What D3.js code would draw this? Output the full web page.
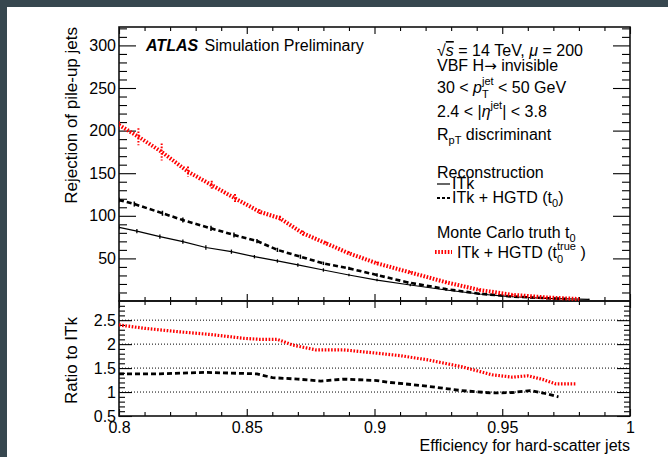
<!DOCTYPE html>
<html><head><meta charset="utf-8">
<script src="https://cdn.jsdelivr.net/npm/d3@7"></script>
<style>
html,body{margin:0;padding:0;background:#fff;}
svg{display:block;font-family:"Liberation Sans",Arial,Helvetica,sans-serif;}
</style></head><body>
<svg id="c" width="668" height="457"></svg>
<script>
// ---------- data ----------
const itkEff  = [0.800,0.807,0.816,0.825,0.834,0.844,0.853,0.862,0.870,0.880,0.890,0.901,0.914,0.928,0.941,0.954,0.967,0.984];
const itkRej  = [86.5,82.0,75.5,69.6,62.8,57.9,52.0,47.0,42.3,36.4,30.5,24.6,18.8,12.9,8.2,5.0,3.1,2.0];
const itkErr  = [2.5,2.5,2.5,2.5,2.5,2.5,2,2,2,2,1.5,1.5,1.5,1,1,0.5,0.5,0.5];

const hgtdEff = [0.800,0.806,0.817,0.825,0.836,0.845,0.854,0.862,0.871,0.880,0.890,0.901,0.913,0.928,0.941,0.954,0.967,0.975];
const hgtdRej = [118.5,113.8,103.0,95.0,85.3,77.5,70.4,60.0,52.0,44.2,38.3,30.5,21.8,14.0,8.6,5.2,3.3,2.5];
const hgtdErr = [3,3,3,3,3,3,2.5,2.5,2.5,2,2,2,1.5,1,1,0.5,0.5,0.5];

const truthEff = [0.800,0.8076,0.8167,0.827,0.8363,0.8454,0.855,0.863,0.872,0.881,0.890,0.901,0.914,0.928,0.941,0.954,0.967,0.980];
const truthRej = [206.6,192.8,175.0,151.8,136.0,120.5,104.8,97.0,79.5,67.7,56.0,44.2,33.5,22.0,13.0,7.2,4.2,2.3];
const truthErr = [4,10,10,6,5,5,3,3,3,2,2,2,1.5,1,1,1,0.5,0.5];

const ratioHgtdEff = [0.800,0.816,0.834,0.854,0.860,0.870,0.879,0.888,0.901,0.906,0.912,0.921,0.934,0.946,0.954,0.961,0.966,0.972];
const ratioHgtd    = [1.38,1.38,1.41,1.38,1.30,1.27,1.23,1.27,1.24,1.20,1.17,1.12,1.03,0.98,0.99,1.03,0.98,0.90];

const ratioTruthEff = [0.800,0.810,0.823,0.836,0.849,0.855,0.862,0.868,0.877,0.888,0.901,0.910,0.921,0.934,0.946,0.954,0.960,0.966,0.971,0.979];
const ratioTruth    = [2.40,2.33,2.26,2.20,2.12,2.10,2.10,1.98,1.88,1.88,1.81,1.76,1.67,1.53,1.36,1.31,1.34,1.26,1.17,1.17];

const topYTicks   = [50,100,150,200,250,300];
const ratioYTicks = [0.5,1,1.5,2,2.5];
const ratioGrid   = [1,1.5,2,2.5];
const xTicks      = [0.8,0.85,0.9,0.95,1];
const xTickLabels = ["0.8","0.85","0.9","0.95","1"];

// ---------- layout ----------
const svg = d3.select("#c");
svg.append("rect").attr("width",668).attr("height",457).attr("fill","#fff");
svg.append("rect").attr("x",0).attr("y",0).attr("width",668).attr("height",7).attr("fill","#37474f");
svg.append("rect").attr("x",0).attr("y",0).attr("width",7).attr("height",457).attr("fill","#37474f");

const L=119, R=630, T=27, M=301, B=416;
const x = d3.scaleLinear().domain([0.8,1]).range([L,R]);
const yTop = d3.scaleLinear().domain([0,321.6]).range([M,T]);
const yBot = d3.scaleLinear().domain([0.5,2.9]).range([B,M]);

const minorTop = d3.range(10,321,10).filter(v=>v%50!==0);
const minorBot = d3.range(0.6,2.9,0.1).map(v=>+v.toFixed(1)).filter(v=>Math.abs(v*2-Math.round(v*2))>1e-6);
const xMinor = d3.range(0.81,1.0,0.01).map(v=>+v.toFixed(2)).filter(v=>Math.abs(v*20-Math.round(v*20))>1e-6);

function styleAxis(g){
  g.selectAll("path.domain").remove();
  g.selectAll(".tick line").attr("stroke","#000").attr("stroke-width",1.1);
  g.selectAll(".tick text").attr("fill","#000").style("font-size","16px").style("font-family",'"Liberation Sans",Arial,sans-serif');
}
const defs = svg.append("defs");
defs.append("clipPath").attr("id","clipTop").append("rect").attr("x",L).attr("y",T).attr("width",R-L).attr("height",M-T);
defs.append("clipPath").attr("id","clipBot").append("rect").attr("x",L).attr("y",M).attr("width",R-L).attr("height",B-M);

// ---- top panel axes ----
svg.append("g").attr("transform",`translate(${L},0)`)
  .call(d3.axisLeft(yTop).tickValues(topYTicks).tickSize(-17).tickPadding(3)).call(styleAxis);
svg.append("g").attr("transform",`translate(${L},0)`)
  .call(d3.axisLeft(yTop).tickValues(minorTop).tickSize(-8).tickFormat("")).call(styleAxis);
svg.append("g").attr("transform",`translate(${R},0)`)
  .call(d3.axisRight(yTop).tickValues(topYTicks).tickSize(-17).tickFormat("")).call(styleAxis);
svg.append("g").attr("transform",`translate(${R},0)`)
  .call(d3.axisRight(yTop).tickValues(minorTop).tickSize(-8).tickFormat("")).call(styleAxis);
svg.append("g").attr("transform",`translate(0,${T})`)
  .call(d3.axisTop(x).tickValues(xTicks).tickSize(-7).tickFormat("")).call(styleAxis);
svg.append("g").attr("transform",`translate(0,${T})`)
  .call(d3.axisTop(x).tickValues(xMinor).tickSize(-4).tickFormat("")).call(styleAxis);
svg.append("g").attr("transform",`translate(0,${M})`)
  .call(d3.axisBottom(x).tickValues(xTicks).tickSize(-7).tickFormat("")).call(styleAxis);
svg.append("g").attr("transform",`translate(0,${M})`)
  .call(d3.axisBottom(x).tickValues(xMinor).tickSize(-4).tickFormat("")).call(styleAxis);

// ---- bottom panel axes ----
svg.append("g").attr("transform",`translate(${L},0)`)
  .call(d3.axisLeft(yBot).tickValues(ratioYTicks).tickSize(-13).tickPadding(3).tickFormat(d=>String(d))).call(styleAxis);
svg.append("g").attr("transform",`translate(${L},0)`)
  .call(d3.axisLeft(yBot).tickValues(minorBot).tickSize(-6).tickFormat("")).call(styleAxis);
svg.append("g").attr("transform",`translate(${R},0)`)
  .call(d3.axisRight(yBot).tickValues(ratioYTicks).tickSize(-13).tickFormat("")).call(styleAxis);
svg.append("g").attr("transform",`translate(${R},0)`)
  .call(d3.axisRight(yBot).tickValues(minorBot).tickSize(-6).tickFormat("")).call(styleAxis);
svg.append("g").attr("transform",`translate(0,${M})`)
  .call(d3.axisTop(x).tickValues(xTicks).tickSize(-7).tickFormat("")).call(styleAxis);
svg.append("g").attr("transform",`translate(0,${M})`)
  .call(d3.axisTop(x).tickValues(xMinor).tickSize(-4).tickFormat("")).call(styleAxis);
svg.append("g").attr("transform",`translate(0,${B})`)
  .call(d3.axisBottom(x).tickValues(xTicks).tickSize(-7).tickPadding(6).tickFormat((d,i)=>xTickLabels[i])).call(styleAxis);
svg.append("g").attr("transform",`translate(0,${B})`)
  .call(d3.axisBottom(x).tickValues(xMinor).tickSize(-4).tickFormat("")).call(styleAxis);

// grid lines in ratio
svg.append("g").selectAll("line").data(ratioGrid).join("line")
  .attr("x1",L).attr("x2",R).attr("y1",d=>yBot(d)).attr("y2",d=>yBot(d))
  .attr("stroke","#000").attr("stroke-width",1).attr("stroke-dasharray","1,2");

// frames
svg.append("rect").attr("x",L).attr("y",T).attr("width",R-L).attr("height",M-T).attr("fill","none").attr("stroke","#111").attr("stroke-width",1.6);
svg.append("rect").attr("x",L).attr("y",M).attr("width",R-L).attr("height",B-M).attr("fill","none").attr("stroke","#111").attr("stroke-width",1.6);

// ---- curves ----
const lineTop = d3.line().x(d=>x(d[0])).y(d=>yTop(d[1]));
const lineBot = d3.line().x(d=>x(d[0])).y(d=>yBot(d[1]));
const gTop = svg.append("g").attr("clip-path","url(#clipTop)");
const gBot = svg.append("g").attr("clip-path","url(#clipBot)");

function errBars(g, eff, val, err, color, width, dash){
  const pts = d3.range(eff.length).map(i=>({e:eff[i],v:val[i],r:err[i]}));
  g.append("g").selectAll("line").data(pts).join("line")
    .attr("x1",d=>x(d.e)).attr("x2",d=>x(d.e))
    .attr("y1",d=>yTop(d.v+d.r)).attr("y2",d=>yTop(d.v-d.r))
    .attr("stroke",color).attr("stroke-width",width).attr("stroke-dasharray",dash||null);
}

gTop.append("path").datum(d3.zip(itkEff,itkRej)).attr("d",lineTop)
  .attr("fill","none").attr("stroke","#000").attr("stroke-width",1.2);
errBars(gTop, itkEff, itkRej, itkErr, "#000", 1.3);

gTop.append("path").datum(d3.zip(hgtdEff,hgtdRej)).attr("d",lineTop)
  .attr("fill","none").attr("stroke","#000").attr("stroke-width",2.6).attr("stroke-dasharray","5,3");
errBars(gTop, hgtdEff, hgtdRej, hgtdErr, "#000", 1.5);

gTop.append("path").datum(d3.zip(truthEff,truthRej)).attr("d",lineTop)
  .attr("fill","none").attr("stroke","#ff0000").attr("stroke-width",4).attr("stroke-dasharray","1.6,1.6");
errBars(gTop, truthEff, truthRej, truthErr, "#ff0000", 2, "1.6,1.6");

gBot.append("path").datum(d3.zip(ratioHgtdEff,ratioHgtd)).attr("d",lineBot)
  .attr("fill","none").attr("stroke","#000").attr("stroke-width",2.8).attr("stroke-dasharray","5,3");
gBot.append("path").datum(d3.zip(ratioTruthEff,ratioTruth)).attr("d",lineBot)
  .attr("fill","none").attr("stroke","#ff0000").attr("stroke-width",3.2).attr("stroke-dasharray","1.6,1.6");

// ---- axis titles ----
svg.append("text").attr("transform",`translate(77,${T}) rotate(-90)`).attr("text-anchor","end")
  .style("font-size","17px").text("Rejection of pile-up jets");
svg.append("text").attr("transform",`translate(77,${(M+B)/2+2}) rotate(-90)`).attr("text-anchor","middle")
  .style("font-size","17px").text("Ratio to ITk");
svg.append("text").attr("x",R).attr("y",451).attr("text-anchor","end")
  .style("font-size","16px").text("Efficiency for hard-scatter jets");

// ---- rich text helper ----
function rich(x0, y0, parts){
  const g = svg.append("g");
  let cx = x0, prevStart = x0, prevW = 0;
  parts.forEach(p=>{
    const t = g.append("text").attr("y", y0 + (p.dy||0))
      .style("font-size",(p.s||16)+"px")
      .style("font-style",p.i?"italic":"normal")
      .style("font-weight",p.b?"bold":"normal")
      .text(p.t.replace(/ /g,"\u00a0"));
    if (p.f) t.style("font-family",p.f);
    if (p.o) t.style("text-decoration","overline");
    if (p.stack){
      t.attr("x",prevStart);
      const w = t.node().getComputedTextLength();
      cx = Math.max(prevStart+prevW, prevStart+w);
    } else {
      cx += (p.dx||0);
      t.attr("x",cx);
      const w = t.node().getComputedTextLength();
      prevStart = cx; prevW = w; cx += w;
    }
  });
}

rich(146, 51, [{t:"ATLAS", b:1, i:1}, {t:" Simulation Preliminary", dx:2}]);
rich(437, 56, [{t:"\u221A"},{t:"s", i:1, o:1},{t:" = 14 TeV, "},{t:"\u03BC", i:1},{t:" = 200"}]);
rich(437, 71, [{t:"VBF H"},{t:"\u2192", f:"DejaVu Sans", s:15},{t:" invisible"}]);
rich(437, 93, [{t:"30 < "},{t:"p", i:1},{t:"jet", s:11, dy:-8},{t:"T", s:11, dy:5, stack:1},{t:" < 50 GeV"}]);
rich(437, 117, [{t:"2.4 < |"},{t:"\u03B7", i:1},{t:"jet", s:11, dy:-8},{t:"| < 3.8"}]);
rich(437, 140, [{t:"R"},{t:"pT", s:11, dy:4},{t:" discriminant"}]);
rich(437, 178, [{t:"Reconstruction"}]);
rich(452, 189, [{t:"ITk"}]);
rich(452, 203, [{t:"ITk + HGTD (t"},{t:"0", s:11, dy:4},{t:")"}]);
rich(437, 238, [{t:"Monte Carlo truth t"},{t:"0", s:11, dy:4}]);
rich(457, 258, [{t:"ITk + HGTD (t"},{t:"true", s:11, dy:-8},{t:"0", s:11, dy:5, stack:1},{t:" )"}]);

// legend samples
svg.append("line").attr("x1",437).attr("x2",450).attr("y1",184).attr("y2",184).attr("stroke","#000").attr("stroke-width",1.2);
svg.append("line").attr("x1",437).attr("x2",451).attr("y1",198).attr("y2",198).attr("stroke","#000").attr("stroke-width",2).attr("stroke-dasharray","3,2");
svg.append("line").attr("x1",435).attr("x2",452).attr("y1",252).attr("y2",252).attr("stroke","#ff0000").attr("stroke-width",4).attr("stroke-dasharray","1.6,1.6");
</script>
</body></html>
